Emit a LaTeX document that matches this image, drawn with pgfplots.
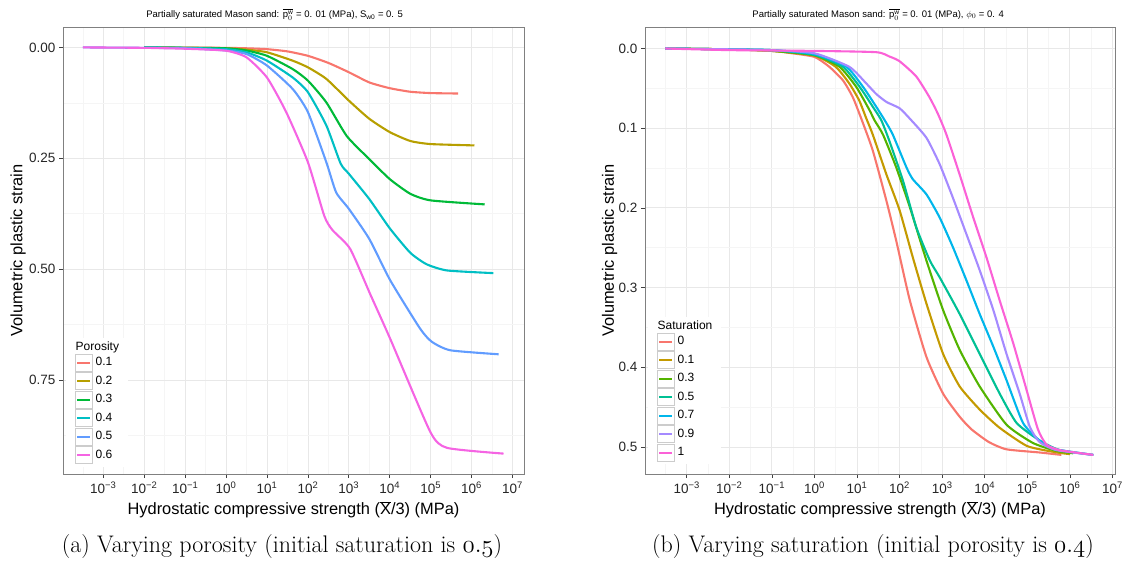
\documentclass[border=0pt]{standalone}
\usepackage{fontspec}
\setmainfont{Liberation Sans}
\newfontfamily\capfont{Latin Modern Roman}
\usepackage{pgfplots}
\pgfplotsset{compat=1.18}
\definecolor{pA}{HTML}{F8766D}
\definecolor{pB}{HTML}{B79F00}
\definecolor{pC}{HTML}{00BA38}
\definecolor{pD}{HTML}{00BFC4}
\definecolor{pE}{HTML}{619CFF}
\definecolor{pF}{HTML}{F564E3}
\definecolor{sA}{HTML}{F8766D}
\definecolor{sB}{HTML}{C49A00}
\definecolor{sC}{HTML}{53B400}
\definecolor{sD}{HTML}{00C094}
\definecolor{sE}{HTML}{00B6EB}
\definecolor{sF}{HTML}{A58AFF}
\definecolor{sG}{HTML}{FB61D7}
\pgfplotsset{
  every axis title shift=0pt,
  ggbase/.style={
    scale only axis, height=447pt,
    axis line style={draw=black!50, line width=0.9pt},
    grid=both,
    major grid style={draw=black!9, line width=0.8pt},
    minor grid style={draw=black!4, line width=0.6pt},
    tick align=outside, major tick length=4pt, minor tick length=0pt,
    tick style={draw=black!75, line width=0.7pt},
    xtick={-3,...,7},
    xticklabels={10\textsuperscript{−3},10\textsuperscript{−2},10\textsuperscript{−1},10\textsuperscript{0},10\textsuperscript{1},10\textsuperscript{2},10\textsuperscript{3},10\textsuperscript{4},10\textsuperscript{5},10\textsuperscript{6},10\textsuperscript{7}},
    minor xtick={-3.5,-2.5,...,6.5},
    ticklabel style={font=\fontsize{13.5}{14}\selectfont, text=black!85},
    y dir=reverse,
    xtick pos=bottom, ytick pos=left,
    title style={font=\fontsize{9.5}{10}\selectfont, anchor=base},
    xlabel style={font=\fontsize{16.4}{17}\selectfont, at={(axis description cs:0.5,0)}, anchor=center, yshift=-36pt},
    ylabel style={font=\fontsize{16.4}{17}\selectfont, anchor=center},
    xlabel={Hydrostatic compressive strength ($\overline{\mathrm{X}}$/3) (MPa)},
    ylabel={Volumetric plastic strain},
    every axis plot/.append style={line width=2.1pt, no marks, smooth, tension=0.35},
    legend cell align=left,
    legend image code/.code={
      \draw[black!20, fill=white, line width=0.5pt] (0pt,-8.5pt) rectangle (17pt,8.5pt);
      \draw[##1, line width=2.1pt] (2pt,0pt) -- (15pt,0pt);
    },
    legend style={anchor=north west, draw=none, fill=white, inner xsep=9pt, inner ysep=3pt,
      font=\fontsize{12}{13}\selectfont, row sep=1pt,
      nodes={inner sep=0pt, text height=9pt, text depth=2.5pt},
      /tikz/every odd column/.append style={column sep=3pt}},
  }
}
\begin{document}
\begin{tikzpicture}[x=1pt,y=1pt]
\useasboundingbox (0,0) rectangle (1126,565);
\begin{axis}[ggbase,
  at={(63pt,91pt)}, anchor=south west, width=461pt,
  xmin=-3.985, xmax=7.28, ymin=-0.046, ymax=0.962,
  ytick={0,0.25,0.5,0.75}, yticklabels={0.00,0.25,0.50,0.75},
  minor ytick={0.125,0.375,0.625,0.875},
  ylabel style={at={(axis description cs:-0.0976,0.5)}},
  title style={at={(axis description cs:0.459,1.0213)}},
  title={Partially saturated Mason sand: $\overline{\mathrm{p}_0^{\mathrm{w}}}$ = 0. 01 (MPa), S\textsubscript{w0} = 0. 5},
  legend style={at={(0.0065,0.304)}},
]
\addlegendimage{empty legend}\addlegendentry{\hspace*{-20pt}Porosity}
\addplot[pA] coordinates {(-2,0)(-1,0.0005)(0,0.001)(0.5,0.002)(1,0.004)(1.5,0.009)(2,0.019)(2.5,0.035)(3,0.056)(3.5,0.079)(4,0.092)(4.5,0.100)(5,0.103)(5.67,0.104)};
\addlegendentry{0.1}
\addplot[pB] coordinates {(-2,0)(-1,0.0005)(0,0.002)(0.5,0.005)(1,0.011)(1.63,0.030)(2,0.045)(2.45,0.071)(3,0.120)(3.5,0.161)(4,0.191)(4.5,0.211)(5,0.218)(6.07,0.221)};
\addlegendentry{0.2}
\addplot[pC] coordinates {(-2,0)(-1,0.001)(0,0.002)(0.5,0.007)(1,0.019)(1.63,0.049)(2,0.075)(2.45,0.124)(2.95,0.200)(3.5,0.252)(4,0.297)(4.5,0.330)(5,0.345)(6.32,0.354)};
\addlegendentry{0.3}
\addplot[pD] coordinates {(-2,0)(-1,0.001)(0,0.004)(0.5,0.011)(1,0.030)(1.63,0.068)(2,0.101)(2.45,0.176)(2.8,0.262)(3,0.285)(3.5,0.342)(4,0.408)(4.5,0.463)(4.9,0.489)(5.4,0.503)(6.53,0.509)};
\addlegendentry{0.4}
\addplot[pE] coordinates {(-3.5,0)(-2,0.001)(-1,0.002)(0,0.007)(0.5,0.015)(1,0.041)(1.63,0.094)(2,0.146)(2.45,0.259)(2.69,0.327)(3,0.364)(3.5,0.432)(4.01,0.525)(4.74,0.634)(5.03,0.664)(5.48,0.683)(6.66,0.692)};
\addlegendentry{0.5}
\addplot[pF] coordinates {(-3.5,0)(-2,0.001)(-1,0.003)(0,0.0075)(0.5,0.0225)(1,0.068)(1.47,0.146)(2,0.259)(2.4,0.380)(2.6,0.412)(3.03,0.454)(3.52,0.556)(4.01,0.657)(4.99,0.867)(5.40,0.903)(6.78,0.916)};
\addlegendentry{0.6}
\end{axis}
\begin{axis}[ggbase,
  at={(645pt,91pt)}, anchor=south west, width=470pt,
  xmin=-3.98, xmax=7.06, ymin=-0.027, ymax=0.534,
  ytick={0,0.1,0.2,0.3,0.4,0.5}, yticklabels={0.0,0.1,0.2,0.3,0.4,0.5},
  minor ytick={0.05,0.15,0.25,0.35,0.45},
  ylabel style={at={(axis description cs:-0.0755,0.5)}},
  title style={at={(axis description cs:0.496,1.0213)}},
  title={Partially saturated Mason sand: $\overline{\mathrm{p}_0^{\mathrm{w}}}$ = 0. 01 (MPa), $\phi_0$ = 0. 4},
  legend style={at={(0.0064,0.351)}},
]
\addlegendimage{empty legend}\addlegendentry{\hspace*{-20pt}Saturation}
\addplot[sA] coordinates {(-3.5,0)(-2,0.001)(-1,0.003)(-0.59,0.0055)(0,0.0105)(0.35,0.023)(0.67,0.040)(0.9,0.061)(1.1,0.088)(1.37,0.128)(1.69,0.191)(1.92,0.241)(2.24,0.316)(2.63,0.387)(3.02,0.433)(3.41,0.462)(3.69,0.478)(4.1,0.494)(4.51,0.503)(5.29,0.507)(5.80,0.510)};
\addlegendentry{0}
\addplot[sB] coordinates {(-3.5,0)(-2,0.001)(-1,0.003)(0,0.009)(0.5,0.023)(0.82,0.044)(1.05,0.065)(1.22,0.088)(1.37,0.108)(1.69,0.158)(2.0,0.203)(2.31,0.262)(2.63,0.320)(3.02,0.383)(3.41,0.424)(3.88,0.453)(4.35,0.476)(5.0,0.499)(5.7,0.507)(6.0,0.509)};
\addlegendentry{0.1}
\addplot[sC] coordinates {(-3.5,0)(-2,0.001)(-1,0.003)(0,0.0085)(0.59,0.023)(0.98,0.048)(1.29,0.077)(1.41,0.090)(1.61,0.108)(1.92,0.149)(2.24,0.199)(2.63,0.266)(3.02,0.328)(3.41,0.378)(3.88,0.424)(4.51,0.472)(5.13,0.495)(5.68,0.505)(6.08,0.508)};
\addlegendentry{0.3}
\addplot[sD] coordinates {(-3.5,0)(-2,0.001)(-1,0.002)(0,0.008)(0.67,0.023)(1.06,0.048)(1.37,0.073)(1.57,0.090)(1.76,0.116)(2.08,0.166)(2.39,0.224)(2.71,0.266)(2.94,0.287)(3.41,0.333)(3.88,0.383)(4.35,0.433)(4.75,0.470)(5.29,0.492)(5.76,0.504)(6.55,0.510)};
\addlegendentry{0.5}
\addplot[sE] coordinates {(-3.5,0)(-2,0.001)(-1,0.002)(0,0.007)(0.75,0.023)(1.14,0.048)(1.45,0.073)(1.65,0.090)(1.84,0.108)(2.16,0.149)(2.31,0.164)(2.63,0.183)(2.94,0.212)(3.25,0.249)(3.57,0.291)(3.88,0.333)(4.20,0.374)(4.51,0.416)(4.90,0.470)(5.29,0.492)(5.68,0.503)(6.55,0.510)};
\addlegendentry{0.7}
\addplot[sF] coordinates {(-3.5,0)(-2,0.001)(-1,0.002)(0,0.006)(0.82,0.023)(1.22,0.044)(1.45,0.057)(1.69,0.067)(2.0,0.075)(2.24,0.088)(2.63,0.112)(2.94,0.145)(3.25,0.187)(3.57,0.233)(3.88,0.278)(4.20,0.328)(4.51,0.383)(4.82,0.433)(5.06,0.475)(5.29,0.494)(5.68,0.504)(6.55,0.510)};
\addlegendentry{0.9}
\addplot[sG] coordinates {(-3.5,0)(-2,0.002)(0,0.003)(1.45,0.0046)(1.76,0.010)(2.0,0.016)(2.39,0.035)(2.7,0.061)(2.9,0.082)(3.10,0.108)(3.41,0.158)(3.73,0.212)(4.04,0.262)(4.35,0.316)(4.67,0.370)(4.98,0.428)(5.25,0.478)(5.45,0.497)(5.76,0.504)(6.55,0.510)};
\addlegendentry{1}
\end{axis}
\node[font=\capfont\fontsize{24}{26}\selectfont, anchor=center] at (282,18) {(a) Varying porosity (initial saturation is $\mathnormal{0.5}$)};
\node[font=\capfont\fontsize{24}{26}\selectfont, anchor=center] at (873,18) {(b) Varying saturation (initial porosity is $\mathnormal{0.4}$)};
\end{tikzpicture}
\end{document}
